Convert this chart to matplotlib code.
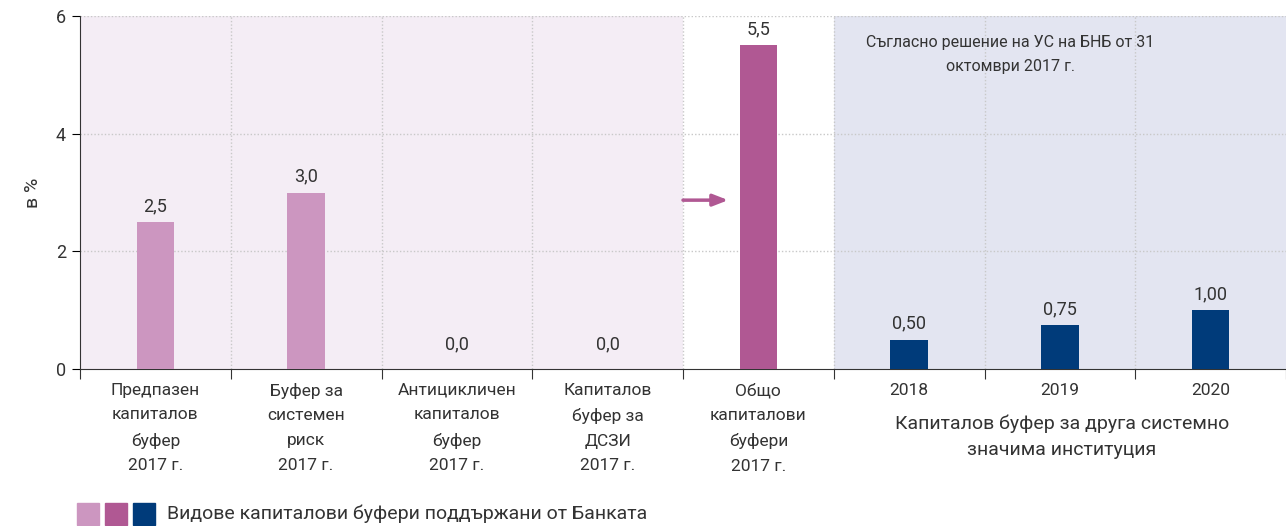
import matplotlib.pyplot as plt
from matplotlib.patches import Rectangle

plt.rcParams['font.family'] = ['Roboto', 'DejaVu Sans']

# categories and buffer values (in %)
categories = [
    "Предпазен\nкапиталов\nбуфер\n2017 г.",
    "Буфер за\nсистемен\nриск\n2017 г.",
    "Антицикличен\nкапиталов\nбуфер\n2017 г.",
    "Капиталов\nбуфер за\nДСЗИ\n2017 г.",
    "Общо\nкапиталови\nбуфери\n2017 г.",
    "2018",
    "2019",
    "2020",
]
values = [2.5, 3.0, 0.0, 0.0, 5.5, 0.50, 0.75, 1.00]
value_labels = ["2,5", "3,0", "0,0", "0,0", "5,5", "0,50", "0,75", "1,00"]
group_label = "Капиталов буфер за друга системно\nзначима институция"
note_text = "Съгласно решение на УС на БНБ от 31\nоктомври 2017 г."
legend_text = "Видове капиталови буфери поддържани от Банката"

LIGHT = "#cc96c0"
MAGENTA = "#b05893"
NAVY = "#003b7a"
bar_colors = [LIGHT, LIGHT, LIGHT, LIGHT, MAGENTA, NAVY, NAVY, NAVY]
TEXT = "#333333"

fig = plt.figure(figsize=(12.86, 5.26), dpi=100)
ax = fig.add_axes([80 / 1286, 157 / 526, 1206 / 1286, 353 / 526])

# shaded backgrounds for the groups
ax.axvspan(0, 4, color="#f4edf5", zorder=0, lw=0)
ax.axvspan(5, 8, color="#e3e5f1", zorder=0, lw=0)

x = [i + 0.5 for i in range(len(values))]
ax.bar(x, values, width=0.25, color=bar_colors, zorder=3)

for xi, v, lab in zip(x, values, value_labels):
    off = 11 if v == 0 else 5
    ax.annotate(lab, (xi, v), xytext=(0, off), textcoords="offset points",
                ha="center", va="bottom", fontsize=13, color=TEXT)

ax.set_xlim(0, 8)
ax.set_ylim(0, 6)
ax.set_yticks([0, 2, 4, 6])
ax.set_xticks(range(0, 9))
ax.set_xticklabels([])
ax.set_xticks(x, minor=True)
ax.set_xticklabels(categories, minor=True, fontsize=12.5, color=TEXT, linespacing=1.8)
ax.tick_params(axis="x", which="minor", length=0, pad=10)
ax.tick_params(axis="x", which="major", length=7, color="#333333")
ax.tick_params(axis="y", length=6, labelsize=13, labelcolor=TEXT, pad=4)

for v in [2, 4, 6]:
    ax.axhline(v, color="#c8c8c8", lw=1, ls=(0, (1, 1.5)), zorder=1)
for b in range(1, 8):
    ax.axvline(b, color="#c8c8c8", lw=1, ls=(0, (1, 1.5)), zorder=1)

for s in ["top", "right"]:
    ax.spines[s].set_visible(False)
ax.spines["left"].set_color("#333333")
ax.spines["bottom"].set_color("#333333")

ax.set_ylabel("в %", fontsize=14, color=TEXT, labelpad=10)

# arrow pointing to the total bar
ax.annotate("", xy=(4.3, 2.87), xytext=(4.0, 2.87),
            arrowprops=dict(arrowstyle="-|>,head_length=0.9,head_width=0.35",
                            color=MAGENTA, lw=2.5, shrinkA=0, shrinkB=0), zorder=4)

ax.text(6.17, 5.68, note_text, ha="center", va="top", fontsize=11.5,
        color=TEXT, linespacing=1.75)

fig.text(1062 / 1286, 1 - 437 / 526, group_label, ha="center", va="center",
         fontsize=14, color=TEXT, linespacing=1.55)

# legend swatches
for i, c in enumerate([LIGHT, MAGENTA, NAVY]):
    fig.patches.append(Rectangle(((77 + 28 * i) / 1286, 1 / 526), 22 / 1286, 22 / 526,
                                 transform=fig.transFigure, color=c))
fig.text(167 / 1286, 1 - 514 / 526, legend_text, ha="left", va="center",
         fontsize=14, color=TEXT)

fig.savefig("out.png", dpi=100)
